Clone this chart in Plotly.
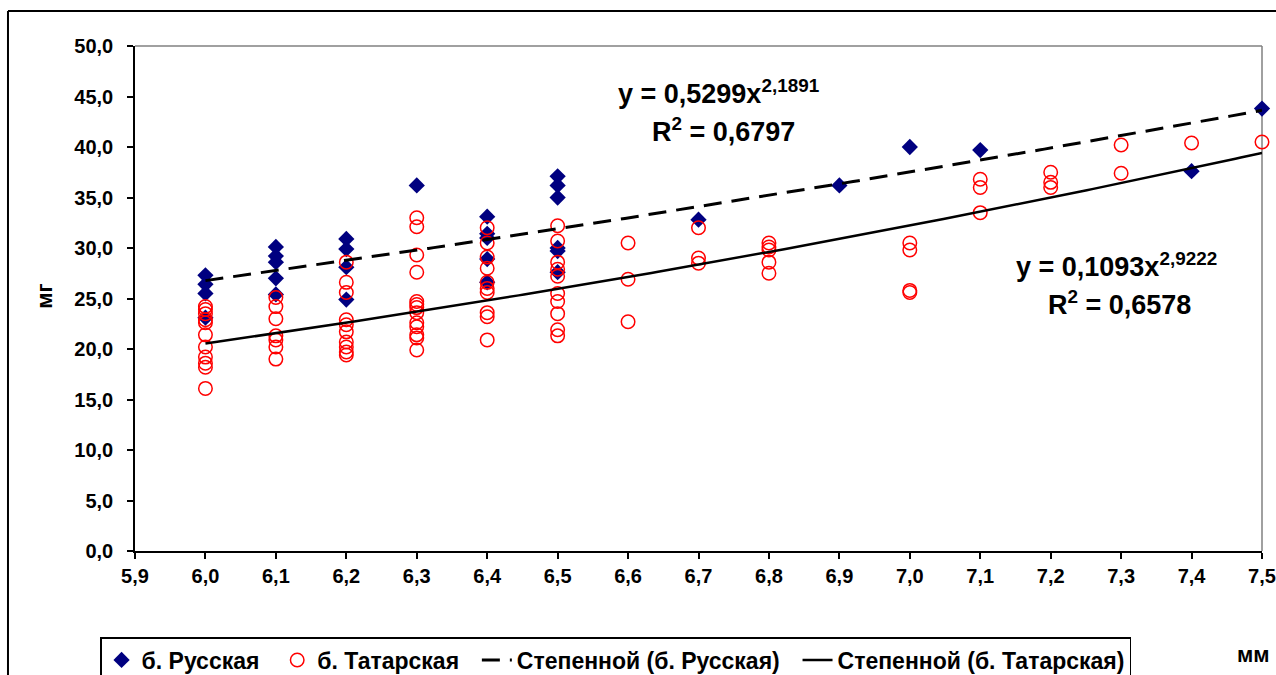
import numpy as np
import plotly.graph_objects as go

# ---- data ----
rus_x = [6.0, 6.0, 6.0, 6.0,
         6.1, 6.1, 6.1, 6.1, 6.1,
         6.2, 6.2, 6.2, 6.2,
         6.3,
         6.4, 6.4, 6.4, 6.4, 6.4,
         6.5, 6.5, 6.5, 6.5, 6.5, 6.5,
         6.7, 6.9, 7.0, 7.1, 7.4, 7.5]
rus_y = [27.3, 26.4, 25.5, 23.1,
         30.1, 29.2, 28.6, 27.0, 25.4,
         30.9, 29.9, 28.1, 24.9,
         36.2,
         33.1, 31.4, 31.0, 28.9, 26.6,
         37.1, 36.2, 35.0, 30.0, 29.7, 27.6,
         32.8, 36.2, 40.0, 39.7, 37.6, 43.8]

tat_x = ([6.0] * 11 + [6.1] * 7 + [6.2] * 10 + [6.3] * 13 + [6.4] * 10 + [6.5] * 10 +
         [6.6] * 3 + [6.7] * 3 + [6.8] * 5 + [7.0] * 4 + [7.1] * 3 + [7.2] * 3 +
         [7.3] * 2 + [7.4] + [7.5])
tat_y = [24.2, 23.9, 23.5, 22.9, 22.6, 21.4, 20.2, 19.2, 18.6, 18.2, 16.1,
         25.1, 24.2, 23.0, 21.3, 20.9, 20.2, 19.0,
         28.6, 26.6, 25.6, 22.9, 22.4, 21.7, 20.7, 20.2, 19.7, 19.4,
         33.0, 32.1, 29.3, 27.6, 24.7, 24.4, 24.1, 23.6, 22.6, 22.2, 21.4, 21.1, 19.9,
         32.0, 30.5, 29.1, 28.0, 26.6, 26.0, 25.6, 23.6, 23.2, 20.9,
         32.2, 30.7, 28.6, 27.9, 27.2, 25.5, 24.7, 23.5, 21.9, 21.3,
         30.5, 26.9, 22.7,
         32.0, 29.0, 28.5,
         30.5, 30.1, 29.8, 28.6, 27.5,
         30.5, 29.8, 25.8, 25.6,
         36.8, 36.0, 33.5,
         37.5, 36.5, 36.0,
         40.2, 37.4,
         40.4,
         40.5]

# power trendline coefficients printed on the chart
rus_a, rus_b, rus_r2 = 0.5299, 2.1891, 0.6797
tat_a, tat_b, tat_r2 = 0.1093, 2.9222, 0.6578
trend_range = [6.0, 7.5]

x_tick_vals = [round(5.9 + 0.1 * i, 1) for i in range(17)]
y_tick_vals = [5 * i for i in range(11)]

names = ["б. Русская", "б. Татарская",
         "Степенной (б. Русская)", "Степенной (б. Татарская)"]

# ---- figure ----
FONT = "Arial, 'Liberation Sans', sans-serif"
PAD = "\u00a0\u00a0"
tx = np.linspace(trend_range[0], trend_range[1], 200)

fig = go.Figure()
fig.add_trace(go.Scatter(
    x=rus_x, y=rus_y, mode="markers", name=names[0] + PAD, cliponaxis=False,
    marker=dict(symbol="diamond", size=12.5, color="#000080",
                line=dict(width=0))))
fig.add_trace(go.Scatter(
    x=tat_x, y=tat_y, mode="markers", name=names[1] + PAD, cliponaxis=False,
    marker=dict(symbol="circle-open", size=13.5, color="#FF0000",
                line=dict(width=1.5, color="#FF0000"))))
fig.add_trace(go.Scatter(
    x=tx, y=rus_a * tx ** rus_b, mode="lines", name=names[2] + PAD,
    line=dict(color="black", width=3, dash="18px,10px")))
fig.add_trace(go.Scatter(
    x=tx, y=tat_a * tx ** tat_b, mode="lines", name=names[3],
    line=dict(color="black", width=2.5)))

def fmt(v):
    return f"{v}".replace(".", ",")

ann_font = dict(family=FONT, size=27, color="black")
title_font = dict(family=FONT, size=22, color="black")
annotations = [
    dict(x=6.728, y=45.4, xref="x", yref="y", showarrow=False,
         text=f"<b>y = {fmt(rus_a)}x<sup>{fmt(rus_b)}</sup></b>", font=ann_font),
    dict(x=6.735, y=41.7, xref="x", yref="y", showarrow=False,
         text=f"<b>R<sup>2</sup> = {fmt(rus_r2)}</b>", font=ann_font),
    dict(x=7.293, y=28.3, xref="x", yref="y", showarrow=False,
         text=f"<b>y = {fmt(tat_a)}x<sup>{fmt(tat_b)}</sup></b>", font=ann_font),
    dict(x=7.298, y=24.6, xref="x", yref="y", showarrow=False,
         text=f"<b>R<sup>2</sup> = {fmt(tat_r2)}</b>", font=ann_font),
    dict(x=-0.08, y=0.505, xref="paper", yref="paper", showarrow=False,
         xanchor="center", yanchor="middle",
         text="<b>мг</b>", textangle=-90, font=title_font),
    dict(x=0.9925, y=-0.204, xref="paper", yref="paper", showarrow=False,
         xanchor="center", yanchor="middle",
         text="<b>мм</b>", font=title_font),
]

BX0, BY1 = -0.1127, 1.0693
shapes = [
    # plot-area border (grey, top and right)
    dict(type="line", xref="paper", yref="paper", x0=0, y0=1, x1=1, y1=1,
         line=dict(color="#808080", width=1.5), layer="below"),
    dict(type="line", xref="paper", yref="paper", x0=1, y0=0, x1=1, y1=1,
         line=dict(color="#808080", width=1.5), layer="below"),
    # chart-area border (left and top edges visible)
    dict(type="line", xref="paper", yref="paper", x0=BX0, y0=-0.26, x1=BX0, y1=BY1,
         line=dict(color="black", width=2)),
    dict(type="line", xref="paper", yref="paper", x0=BX0, y0=BY1, x1=1.02, y1=BY1,
         line=dict(color="black", width=2)),
]

tick_font = dict(family=FONT, size=20, color="black", weight="bold")
fig.update_layout(
    width=1276, height=675,
    margin=dict(l=135, r=14, t=46, b=124, autoexpand=False),
    paper_bgcolor="white", plot_bgcolor="white",
    separators=", ",
    font=dict(family=FONT, color="black"),
    showlegend=True,
    legend=dict(orientation="h", x=-0.031, y=-0.1703, xanchor="left",
                yanchor="top", bordercolor="black", borderwidth=1.5,
                bgcolor="white",
                font=dict(family=FONT, size=23, color="black", weight="bold"),
                traceorder="normal"),
    annotations=annotations,
    shapes=shapes,
    xaxis=dict(range=[5.9, 7.5], tickvals=x_tick_vals, tickformat=".1f",
               showgrid=False, zeroline=False, showline=True,
               linecolor="black", linewidth=1.5, ticks="outside",
               ticklen=6, tickcolor="black", tickwidth=1.5,
               tickfont=tick_font),
    yaxis=dict(range=[0, 50], tickvals=y_tick_vals, tickformat=".1f",
               showgrid=False, zeroline=False, showline=True,
               linecolor="black", linewidth=1.5, ticks="outside",
               ticklen=6, tickcolor="black", tickwidth=1.5,
               ticklabelstandoff=10, tickfont=tick_font),
)

# remove the default page margin so the figure sits at the window's corner
fig.write_html("out.html",
               config={"displayModeBar": False},
               post_script="document.body.style.margin='0';"
                           "document.body.style.overflow='hidden';")
